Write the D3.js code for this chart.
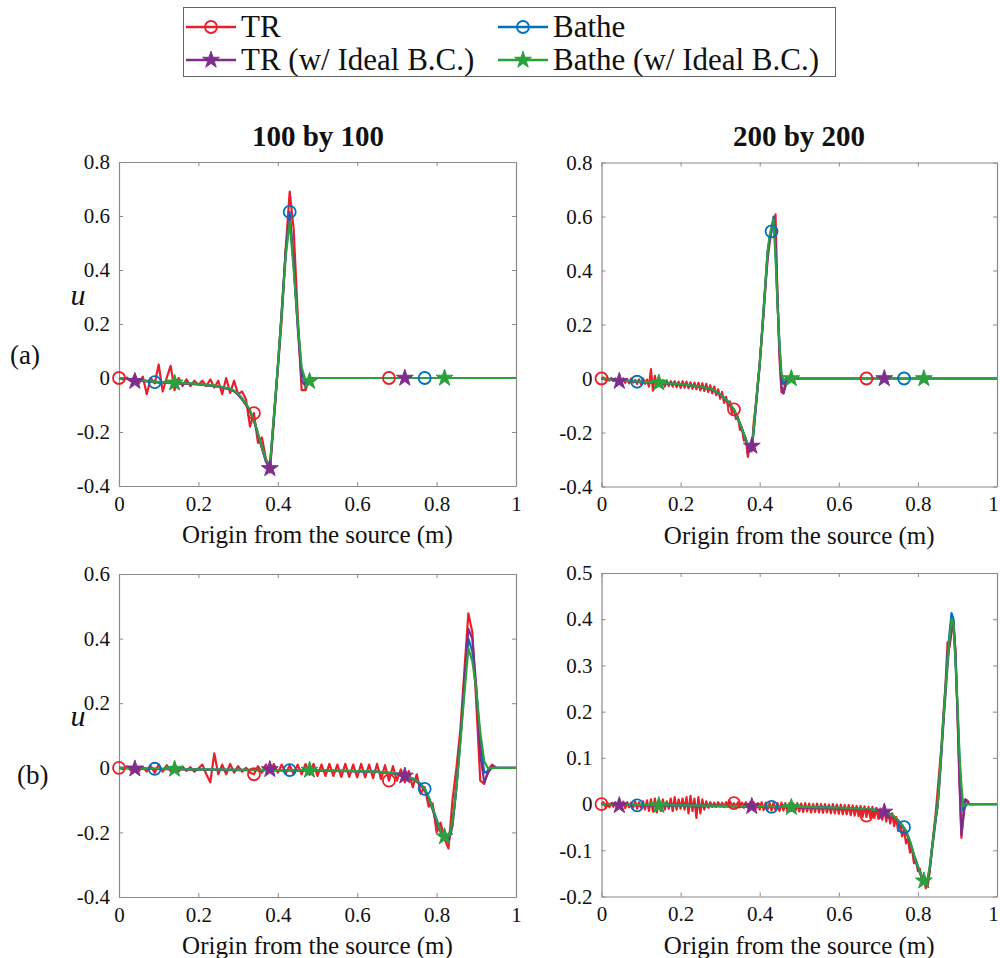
<!doctype html>
<html>
<head>
<meta charset="utf-8">
<title>TR vs Bathe, wave profiles</title>
<script src="https://d3js.org/d3.v7.min.js"></script>
<style>
  body { margin: 0; background: #fff; }
  svg text { font-family: "Liberation Serif", "Times New Roman", serif; fill: #111; }
</style>
</head>
<body>
<script>
// ---------- ticks ----------
var xTicks = [0, 0.2, 0.4, 0.6, 0.8, 1];
var yTicksA = [-0.4, -0.2, 0, 0.2, 0.4, 0.6, 0.8];
var yTicksB100 = [-0.4, -0.2, 0, 0.2, 0.4, 0.6];
var yTicksB200 = [-0.2, -0.1, 0, 0.1, 0.2, 0.3, 0.4, 0.5];

var seriesNames = ["TR", "Bathe", "TR (w/ Ideal B.C.)", "Bathe (w/ Ideal B.C.)"];
var colTitles = ["100 by 100", "200 by 200"];

// ---------- (a) 100 by 100 ----------
var a100_grid = [0, 0.05, 0.1, 0.15, 0.2, 0.25, 0.28, 0.29, 0.30, 0.31, 0.32, 0.33, 0.34, 0.35, 0.36, 0.37, 0.38, 0.39, 0.40, 0.41, 0.42, 0.43, 0.44, 0.45, 0.46, 0.47, 0.48, 0.49, 0.5, 1];
var a100_bathe = [0, -0.008, -0.015, -0.019, -0.023, -0.031, -0.041, -0.048, -0.06, -0.077, -0.097, -0.122, -0.157, -0.207, -0.258, -0.305, -0.33, -0.15, 0.04, 0.25, 0.47, 0.615, 0.42, 0.2, 0.02, -0.02, -0.01, 0, 0, 0];
var a100_trIdeal = [0, -0.01, -0.017, -0.02, -0.024, -0.032, -0.042, -0.05, -0.062, -0.08, -0.1, -0.125, -0.16, -0.21, -0.26, -0.31, -0.335, -0.15, 0.04, 0.25, 0.47, 0.60, 0.43, 0.19, -0.01, -0.03, -0.01, 0, 0, 0];
var a100_batheIdeal = [0, -0.008, -0.015, -0.018, -0.022, -0.03, -0.04, -0.047, -0.058, -0.075, -0.095, -0.12, -0.155, -0.205, -0.255, -0.30, -0.325, -0.14, 0.04, 0.24, 0.45, 0.58, 0.40, 0.21, 0.04, -0.01, -0.012, 0, 0, 0];
var a100_trStep = 0.01;
var a100_tr = [0, -0.005, 0.002, -0.012, 0.01, -0.02, 0.005, -0.06, 0.0, -0.02,
  0.05, -0.05, 0.0, 0.045, -0.045, 0.0, -0.03, -0.005, -0.03, -0.01,
  -0.025, -0.01, -0.03, -0.005, -0.035, -0.01, -0.06, 0.0, -0.055, -0.01,
  -0.06, -0.05, -0.08, -0.18, -0.13, -0.24, -0.22, -0.30, -0.35, -0.16,
  0.03, 0.22, 0.48, 0.69, 0.55, 0.24, -0.045, -0.045, 0.0, 0.0, 0.0];
var a100_marksTR = [[0, 0], [0.34, -0.13], [0.68, 0]];
var a100_marksBathe = [[0.09, -0.015], [0.43, 0.615], [0.77, 0]];
var a100_marksTRIdeal = [[0.04, -0.012], [0.38, -0.335], [0.72, 0]];
var a100_marksBatheIdeal = [[0.14, -0.018], [0.48, -0.012], [0.82, 0]];

// ---------- (a) 200 by 200 ----------
var a200_grid = [0, 0.05, 0.1, 0.15, 0.2, 0.25, 0.28, 0.30, 0.32, 0.335, 0.35, 0.36, 0.37, 0.375, 0.38, 0.385, 0.39, 0.395, 0.40, 0.41, 0.42, 0.425, 0.43, 0.435, 0.44, 0.445, 0.45, 0.455, 0.46, 0.47, 0.5, 1];
var a200_bathe = [0, -0.007, -0.012, -0.016, -0.021, -0.03, -0.04, -0.058, -0.085, -0.115, -0.165, -0.205, -0.248, -0.262, -0.26, -0.19, -0.11, -0.03, 0.05, 0.26, 0.47, 0.51, 0.545, 0.60, 0.47, 0.28, 0.12, 0.0, -0.02, 0, 0, 0];
var a200_trIdeal = [0, -0.008, -0.013, -0.017, -0.022, -0.031, -0.042, -0.06, -0.087, -0.117, -0.168, -0.21, -0.255, -0.27, -0.262, -0.19, -0.11, -0.03, 0.05, 0.25, 0.46, 0.52, 0.56, 0.59, 0.5, 0.3, 0.1, -0.03, -0.055, -0.005, 0, 0];
var a200_batheIdeal = [0, -0.007, -0.012, -0.016, -0.021, -0.03, -0.04, -0.058, -0.085, -0.115, -0.165, -0.205, -0.245, -0.258, -0.255, -0.18, -0.1, -0.02, 0.05, 0.26, 0.47, 0.53, 0.56, 0.59, 0.45, 0.28, 0.13, 0.02, -0.005, 0, 0, 0];
var a200_trStep = 0.005;
var a200_tr = [0, 0.004, -0.006, 0.003, -0.008, 0.002, -0.01, 0.0, -0.012, -0.002,
  -0.014, 0.0, -0.016, -0.002, -0.018, 0.0, -0.015, -0.005, -0.02, -0.003,
  -0.022, 0.0, -0.02, -0.004, -0.03, 0.035, -0.045, 0.01, -0.03, -0.005,
  -0.028, -0.006, -0.03, -0.008, -0.028, -0.01, -0.03, -0.01, -0.032, -0.012,
  -0.035, -0.01, -0.034, -0.012, -0.036, -0.014, -0.038, -0.015, -0.04, -0.016,
  -0.044, -0.018, -0.046, -0.02, -0.05, -0.025, -0.055, -0.03, -0.062, -0.04,
  -0.075, -0.05, -0.09, -0.068, -0.105, -0.085, -0.13, -0.114, -0.15, -0.14,
  -0.19, -0.18, -0.23, -0.22, -0.29, -0.25, -0.27, -0.16, -0.1, -0.02,
  0.06, 0.15, 0.24, 0.35, 0.44, 0.5, 0.55, 0.57, 0.608, 0.3,
  0.08, -0.05, -0.055, -0.01, 0.0, 0.002, 0, 0, 0, 0, 0];
var a200_marksTR = [[0, 0], [0.335, -0.114], [0.67, 0]];
var a200_marksBathe = [[0.09, -0.012], [0.43, 0.545], [0.765, 0]];
var a200_marksTRIdeal = [[0.045, -0.01], [0.38, -0.25], [0.715, 0]];
var a200_marksBatheIdeal = [[0.145, -0.016], [0.48, 0], [0.815, 0]];

// ---------- (b) 100 by 100 ----------
var b100_grid = [0, 0.1, 0.2, 0.3, 0.4, 0.5, 0.6, 0.65, 0.7, 0.72, 0.74, 0.75, 0.76, 0.77, 0.78, 0.79, 0.80, 0.81, 0.82, 0.83, 0.84, 0.85, 0.86, 0.87, 0.88, 0.89, 0.90, 0.91, 0.92, 0.93, 0.94, 0.95, 1];
var b100_bathe = [0, -0.003, -0.005, -0.006, -0.007, -0.008, -0.01, -0.012, -0.018, -0.027, -0.033, -0.04, -0.05, -0.065, -0.09, -0.125, -0.16, -0.195, -0.215, -0.215, -0.175, -0.06, 0.09, 0.25, 0.40, 0.36, 0.24, 0.08, -0.015, -0.01, 0.0, 0, 0];
var b100_trIdeal = [0, -0.004, -0.006, -0.007, -0.008, -0.009, -0.011, -0.013, -0.02, -0.03, -0.036, -0.043, -0.055, -0.07, -0.095, -0.13, -0.17, -0.2, -0.22, -0.23, -0.18, -0.06, 0.09, 0.27, 0.43, 0.40, 0.25, 0.04, -0.045, -0.015, 0.005, 0, 0];
var b100_batheIdeal = [0, -0.003, -0.005, -0.006, -0.007, -0.008, -0.01, -0.012, -0.018, -0.027, -0.033, -0.04, -0.05, -0.065, -0.09, -0.125, -0.16, -0.195, -0.213, -0.21, -0.17, -0.06, 0.08, 0.23, 0.37, 0.33, 0.24, 0.11, 0.02, -0.003, 0, 0, 0];
var b100_trStep = 0.01;
var b100_tr = [0, -0.004, 0.004, -0.008, 0.002, -0.01, 0.003, -0.012, 0.005, -0.015,
  0.01, -0.012, 0.008, -0.01, 0.006, -0.012, 0.004, -0.01, 0.002, -0.012,
  -0.002, 0.01, -0.02, -0.045, 0.045, -0.02, 0.01, -0.02, 0.012, -0.015,
  0.005, -0.012, 0.0, -0.015, -0.02, 0.005, -0.015, 0.01, -0.012, 0.012,
  -0.015, 0.01, -0.018, 0.008, -0.02, 0.01, -0.02, 0.012, -0.022, 0.012,
  -0.025, 0.01, -0.025, 0.012, -0.025, 0.01, -0.028, 0.012, -0.028, 0.01,
  -0.03, 0.012, -0.03, 0.01, -0.032, 0.012, -0.035, 0.008, -0.04, 0.005,
  -0.04, -0.005, -0.045, -0.01, -0.06, -0.02, -0.08, -0.06, -0.12, -0.11,
  -0.2, -0.17, -0.22, -0.25, -0.1, 0.0, 0.12, 0.3, 0.478, 0.42,
  0.2, -0.04, -0.05, -0.005, 0.01, 0.0];
var b100_marksTR = [[0, 0], [0.34, -0.02], [0.68, -0.04]];
var b100_marksBathe = [[0.09, -0.003], [0.43, -0.007], [0.77, -0.065]];
var b100_marksTRIdeal = [[0.04, -0.003], [0.38, -0.005], [0.72, -0.025]];
var b100_marksBatheIdeal = [[0.14, -0.004], [0.48, -0.007], [0.82, -0.213]];

// ---------- (b) 200 by 200 ----------
var b200_grid = [0, 0.1, 0.2, 0.3, 0.4, 0.5, 0.6, 0.65, 0.7, 0.72, 0.74, 0.75, 0.76, 0.77, 0.78, 0.79, 0.80, 0.81, 0.815, 0.82, 0.825, 0.83, 0.835, 0.84, 0.845, 0.85, 0.855, 0.86, 0.865, 0.87, 0.875, 0.88, 0.885, 0.89, 0.895, 0.90, 0.905, 0.91, 0.915, 0.92, 0.925, 0.93, 1];
var b200_bathe = [0, -0.002, -0.003, -0.004, -0.005, -0.006, -0.008, -0.01, -0.013, -0.017, -0.027, -0.035, -0.045, -0.058, -0.08, -0.11, -0.135, -0.158, -0.167, -0.17, -0.162, -0.137, -0.1, -0.065, -0.03, 0.0, 0.06, 0.125, 0.19, 0.255, 0.32, 0.37, 0.413, 0.40, 0.31, 0.21, 0.1, 0.02, -0.015, -0.005, 0.0, 0, 0];
var b200_trIdeal = [0, -0.003, -0.004, -0.005, -0.006, -0.007, -0.009, -0.011, -0.015, -0.019, -0.029, -0.037, -0.048, -0.06, -0.083, -0.113, -0.138, -0.16, -0.17, -0.175, -0.168, -0.14, -0.105, -0.07, -0.035, -0.005, 0.05, 0.115, 0.18, 0.24, 0.3, 0.35, 0.38, 0.385, 0.33, 0.2, 0.05, -0.067, -0.03, 0.01, 0.005, 0, 0];
var b200_batheIdeal = [0, -0.002, -0.003, -0.004, -0.005, -0.006, -0.008, -0.01, -0.013, -0.017, -0.027, -0.035, -0.045, -0.058, -0.08, -0.11, -0.135, -0.158, -0.166, -0.168, -0.16, -0.135, -0.1, -0.065, -0.03, 0.0, 0.06, 0.125, 0.19, 0.25, 0.31, 0.36, 0.40, 0.39, 0.31, 0.22, 0.11, 0.04, -0.006, 0.0, 0.0, 0, 0];
var b200_trStep = 0.005;
var b200_tr = [0, 0.004, -0.006, 0.003, -0.007, 0.002, -0.006, 0.004, -0.008, 0.003,
  -0.006, 0.005, -0.009, 0.004, -0.007, 0.003, -0.008, 0.006, -0.01, 0.004,
  -0.008, 0.006, -0.012, 0.008, -0.015, 0.01, -0.016, 0.012, -0.018, 0.008,
  -0.015, 0.01, -0.012, 0.006, -0.01, 0.012, -0.015, 0.015, -0.012, 0.01,
  -0.01, 0.012, -0.012, 0.015, -0.02, 0.018, -0.015, 0.012, -0.03, 0.015,
  -0.02, 0.01, -0.012, 0.006, -0.008, 0.004, -0.006, 0.003, -0.006, 0.004,
  -0.005, 0.003, -0.006, 0.004, -0.005, 0.006, -0.004, 0.002, -0.006, 0.004,
  -0.007, 0.003, -0.008, 0.004, -0.008, 0.003, -0.009, 0.004, -0.01, 0.002,
  -0.012, 0.004, -0.013, 0.003, -0.012, 0.002, -0.014, 0.003, -0.013, 0.002,
  -0.015, 0.003, -0.014, 0.002, -0.016, 0.002, -0.015, 0.001, -0.016, 0.002,
  -0.016, 0.001, -0.017, 0.002, -0.016, 0.001, -0.018, 0.0, -0.017, 0.001,
  -0.018, 0.0, -0.019, 0.0, -0.018, -0.001, -0.02, 0.0, -0.02, -0.001,
  -0.021, -0.001, -0.022, -0.002, -0.022, -0.002, -0.024, -0.003, -0.025, -0.004,
  -0.026, -0.004, -0.028, -0.005, -0.028, -0.006, -0.03, -0.006, -0.03, -0.008,
  -0.032, -0.01, -0.034, -0.012, -0.038, -0.015, -0.042, -0.02, -0.048, -0.028,
  -0.058, -0.04, -0.07, -0.055, -0.085, -0.075, -0.105, -0.095, -0.128, -0.12,
  -0.145, -0.14, -0.165, -0.16, -0.182, -0.175, -0.145, -0.1, -0.06, -0.02,
  0.03, 0.08, 0.13, 0.2, 0.26, 0.35, 0.34, 0.37, 0.394, 0.33,
  0.2, 0.06, -0.073, -0.02, 0.01, 0.008, 0.0, 0.0, 0.0, 0.0, 0.0];
var b200_marksTR = [[0, 0], [0.335, 0.002], [0.67, -0.025]];
var b200_marksBathe = [[0.09, -0.003], [0.43, -0.006], [0.765, -0.05]];
var b200_marksTRIdeal = [[0.045, -0.003], [0.38, -0.005], [0.715, -0.017]];
var b200_marksBatheIdeal = [[0.145, -0.003], [0.48, -0.007], [0.815, -0.166]];

// ---------- styles ----------
var colors = { tr: "#e8202a", bathe: "#0072bd", trIdeal: "#7e2f8e", batheIdeal: "#2ca03c" };
var axisGray = "#8a8a8a";

var W = 1000, H = 958;
var svg = d3.select("body").append("svg")
    .attr("width", W)
    .attr("height", H);

function fmt(v) { return String(+v.toFixed(1)); }

var panels = [
  { left: 119, right: 516, top: 162, bottom: 486, yDom: [-0.4, 0.8], yTicks: yTicksA,
    grid: a100_grid, bathe: a100_bathe, trIdeal: a100_trIdeal, batheIdeal: a100_batheIdeal,
    tr: a100_tr, trStep: a100_trStep,
    marks: { tr: a100_marksTR, bathe: a100_marksBathe, trIdeal: a100_marksTRIdeal, batheIdeal: a100_marksBatheIdeal } },
  { left: 601.5, right: 997, top: 162.5, bottom: 486.5, yDom: [-0.4, 0.8], yTicks: yTicksA,
    grid: a200_grid, bathe: a200_bathe, trIdeal: a200_trIdeal, batheIdeal: a200_batheIdeal,
    tr: a200_tr, trStep: a200_trStep,
    marks: { tr: a200_marksTR, bathe: a200_marksBathe, trIdeal: a200_marksTRIdeal, batheIdeal: a200_marksBatheIdeal } },
  { left: 119, right: 516, top: 574, bottom: 897, yDom: [-0.4, 0.6], yTicks: yTicksB100,
    grid: b100_grid, bathe: b100_bathe, trIdeal: b100_trIdeal, batheIdeal: b100_batheIdeal,
    tr: b100_tr, trStep: b100_trStep,
    marks: { tr: b100_marksTR, bathe: b100_marksBathe, trIdeal: b100_marksTRIdeal, batheIdeal: b100_marksBatheIdeal } },
  { left: 601.5, right: 997, top: 573, bottom: 896.5, yDom: [-0.2, 0.5], yTicks: yTicksB200,
    grid: b200_grid, bathe: b200_bathe, trIdeal: b200_trIdeal, batheIdeal: b200_batheIdeal,
    tr: b200_tr, trStep: b200_trStep,
    marks: { tr: b200_marksTR, bathe: b200_marksBathe, trIdeal: b200_marksTRIdeal, batheIdeal: b200_marksBatheIdeal } }
];

var starSym = d3.symbol().type(d3.symbolStar).size(88);

function drawMarker(g, kind, x, y) {
    if (kind === "tr" || kind === "bathe") {
        g.append("circle")
            .attr("cx", x).attr("cy", y).attr("r", 6)
            .attr("fill", "none")
            .attr("stroke", colors[kind])
            .attr("stroke-width", 1.8);
    } else {
        g.append("path")
            .attr("d", starSym())
            .attr("transform", "translate(" + x + "," + y + ")")
            .attr("fill", colors[kind])
            .attr("stroke", colors[kind])
            .attr("stroke-width", 1);
    }
}

panels.forEach(function(p, pi) {
    var x = d3.scaleLinear().domain([0, 1]).range([p.left, p.right]);
    var y = d3.scaleLinear().domain(p.yDom).range([p.bottom, p.top]);
    var g = svg.append("g");

    // axes (inward ticks on all four sides, like a boxed plot)
    var tl = 4;
    var xb = g.append("g").attr("transform", "translate(0," + p.bottom + ")")
        .call(d3.axisBottom(x).tickValues(xTicks).tickFormat(fmt).tickSizeInner(-tl).tickSizeOuter(0).tickPadding(10));
    g.append("g").attr("transform", "translate(0," + p.top + ")")
        .call(d3.axisTop(x).tickValues(xTicks).tickFormat("").tickSizeInner(-tl).tickSizeOuter(0));
    g.append("g").attr("transform", "translate(" + p.left + ",0)")
        .call(d3.axisLeft(y).tickValues(p.yTicks).tickFormat(fmt).tickSizeInner(-tl).tickSizeOuter(0).tickPadding(9));
    g.append("g").attr("transform", "translate(" + p.right + ",0)")
        .call(d3.axisRight(y).tickValues(p.yTicks).tickFormat("").tickSizeInner(-tl).tickSizeOuter(0));

    g.selectAll(".domain").attr("stroke", axisGray).attr("stroke-width", 1.2);
    g.selectAll(".tick line").attr("stroke", axisGray);
    g.selectAll(".tick text")
        .attr("fill", "#111")
        .style("font-family", "'Liberation Serif', serif")
        .style("font-size", "21px");
    // keep the last x label inside the page on the right-hand panels
    if (p.right > 990) {
        xb.selectAll(".tick text").filter(function(d) { return d === 1; }).attr("dx", "-4");
    }

    // x axis label
    g.append("text")
        .attr("x", (p.left + p.right) / 2)
        .attr("y", p.bottom + 57)
        .attr("text-anchor", "middle")
        .style("font-size", "25px")
        .text("Origin from the source (m)");

    var line = d3.line()
        .x(function(d) { return x(d[0]); })
        .y(function(d) { return y(d[1]); });

    var trPts = p.tr.map(function(v, i) { return [i * p.trStep, v]; });
    function onGrid(arr) { return p.grid.map(function(xv, i) { return [xv, arr[i]]; }); }

    var order = [
        { k: "tr", pts: trPts },
        { k: "bathe", pts: onGrid(p.bathe) },
        { k: "trIdeal", pts: onGrid(p.trIdeal) },
        { k: "batheIdeal", pts: onGrid(p.batheIdeal) }
    ];
    order.forEach(function(s) {
        g.append("path")
            .datum(s.pts)
            .attr("d", line)
            .attr("fill", "none")
            .attr("stroke", colors[s.k])
            .attr("stroke-width", 2.2)
            .attr("stroke-linejoin", "round");
    });
    order.forEach(function(s) {
        p.marks[s.k].forEach(function(m) {
            drawMarker(g, s.k, x(m[0]), y(m[1]));
        });
    });
});

// column titles
svg.append("text").attr("x", 318).attr("y", 146).attr("text-anchor", "middle")
    .style("font-size", "29px").style("font-weight", "bold").text(colTitles[0]);
svg.append("text").attr("x", 799).attr("y", 146).attr("text-anchor", "middle")
    .style("font-size", "29px").style("font-weight", "bold").text(colTitles[1]);

// row labels
[[297, 355, "(a)", 10], [718, 775, "(b)", 17]].forEach(function(r) {
    svg.append("text").attr("x", 78).attr("y", r[0] + 8).attr("text-anchor", "middle")
        .style("font-size", "30px").style("font-style", "italic").text("u");
    svg.append("text").attr("x", r[3]).attr("y", r[1] + 9)
        .style("font-size", "27px").text(r[2]);
});

// legend
var lg = svg.append("g");
lg.append("rect").attr("x", 183.5).attr("y", 7.5).attr("width", 652).attr("height", 69)
    .attr("fill", "#fff").attr("stroke", "#666").attr("stroke-width", 1);
var legendItems = [
    { k: "tr", name: seriesNames[0], col: 0, row: 0 },
    { k: "bathe", name: seriesNames[1], col: 1, row: 0 },
    { k: "trIdeal", name: seriesNames[2], col: 0, row: 1 },
    { k: "batheIdeal", name: seriesNames[3], col: 1, row: 1 }
];
var colX = [186, 498], rowY = [27, 60];
legendItems.forEach(function(it) {
    var x0 = colX[it.col], yy = rowY[it.row];
    lg.append("line").attr("x1", x0).attr("x2", x0 + 50).attr("y1", yy).attr("y2", yy)
        .attr("stroke", colors[it.k]).attr("stroke-width", 2.5);
    drawMarker(lg, it.k, x0 + 25, yy);
    lg.append("text").attr("x", x0 + 55).attr("y", yy + 10)
        .style("font-size", "31px").text(it.name);
});
</script>
</body>
</html>
